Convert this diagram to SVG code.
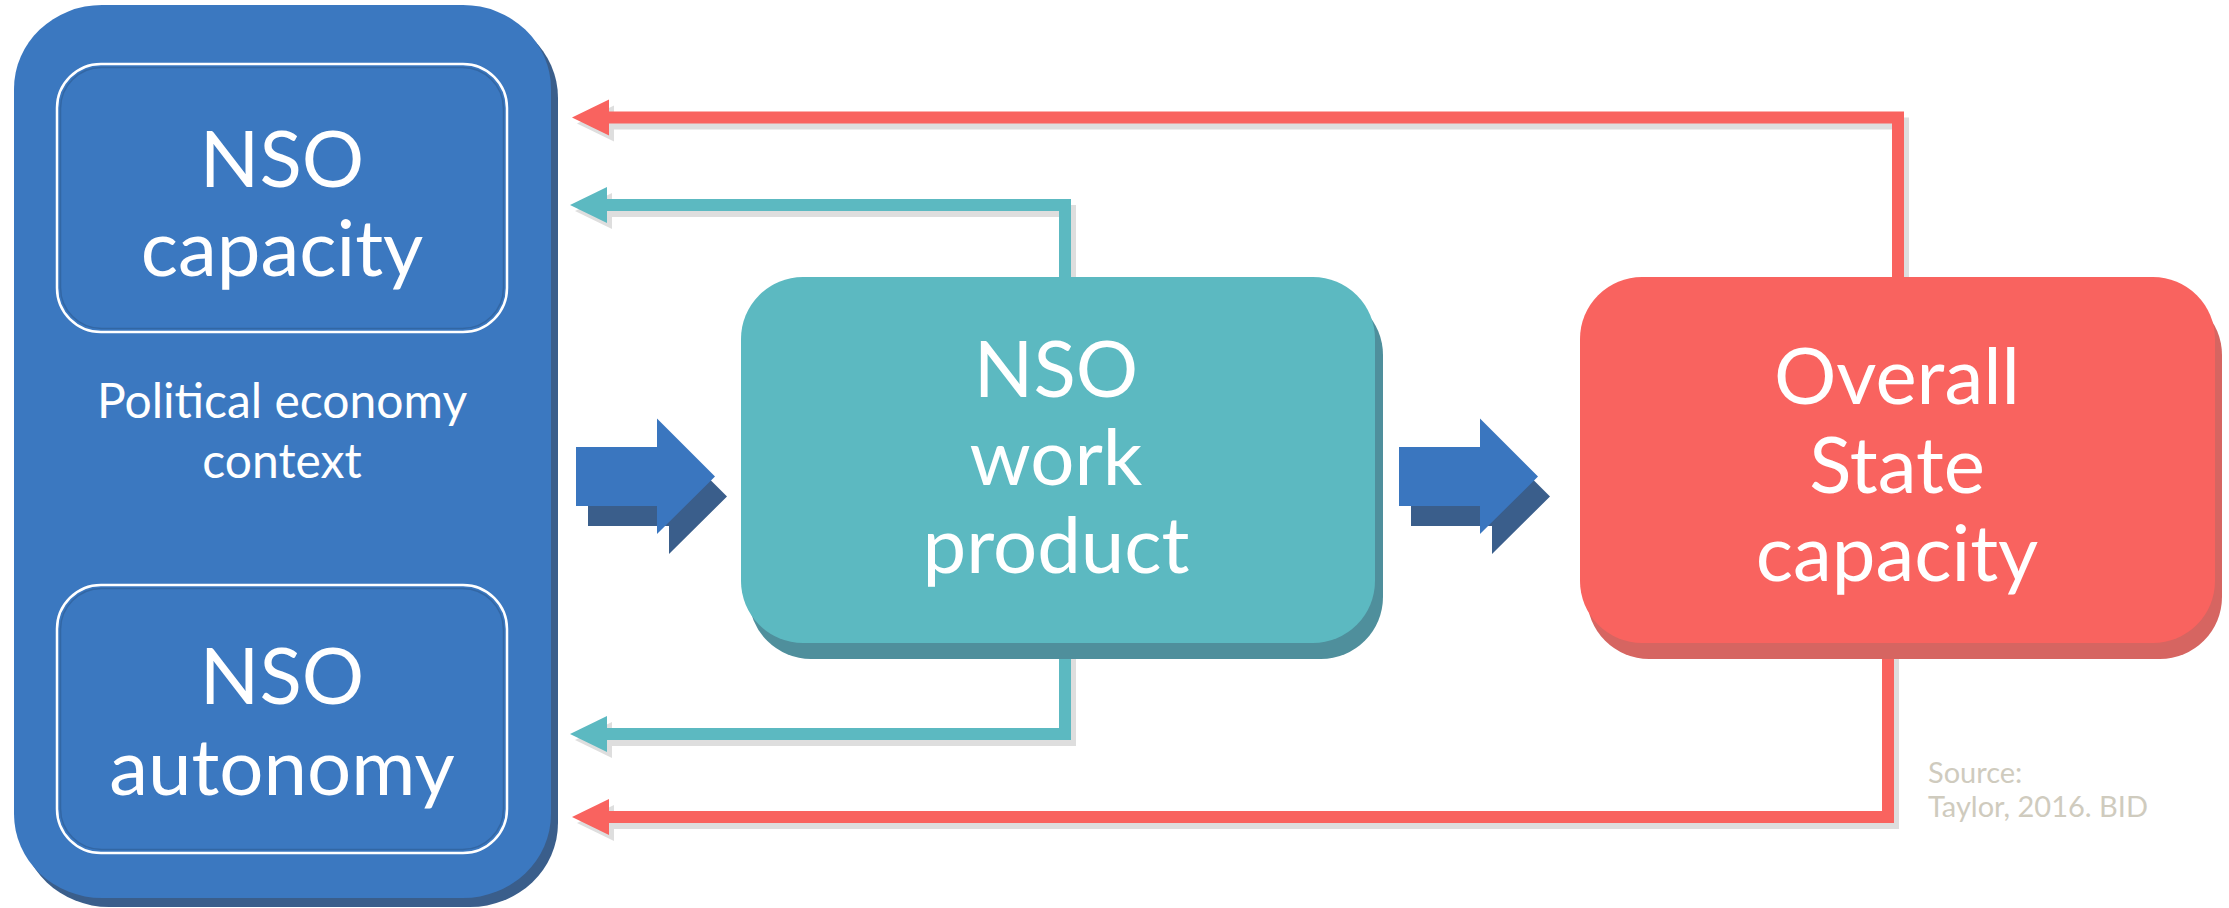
<svg xmlns="http://www.w3.org/2000/svg" width="2229" height="908" viewBox="0 0 2229 908">
  <style>
    .big { font-family: Lato, "Liberation Sans", sans-serif; font-size: 78px; fill: #ffffff; text-anchor: middle; }
    .mid { font-family: Lato, "Liberation Sans", sans-serif; font-size: 48px; fill: #ffffff; text-anchor: middle; }
    .src { font-family: Lato, "Liberation Sans", sans-serif; font-size: 29px; fill: #cfcbbe; }
    .line { fill: none; stroke-width: 12; stroke-linejoin: miter; stroke-linecap: butt; }
    .red { stroke: #f9635f; }
    .teal { stroke: #5cb9c1; }
    .shadow { stroke: #dedede; }
    .inner { fill: #3b78c0; stroke: #ffffff; stroke-width: 2.5; }
    .innerline { fill: none; stroke: #2f5f99; stroke-width: 1.5; opacity: 0.7; }
  </style>
  <defs>
    <marker id="mRed" markerUnits="userSpaceOnUse" orient="auto" refX="0" refY="0" markerWidth="60" markerHeight="60" overflow="visible">
      <path d="M-2,-18 L35,0 L-2,18 Z" fill="#f9635f"/>
    </marker>
    <marker id="mTeal" markerUnits="userSpaceOnUse" orient="auto" refX="0" refY="0" markerWidth="60" markerHeight="60" overflow="visible">
      <path d="M-2,-18 L35,0 L-2,18 Z" fill="#5cb9c1"/>
    </marker>
    <marker id="mGray" markerUnits="userSpaceOnUse" orient="auto" refX="0" refY="0" markerWidth="60" markerHeight="60" overflow="visible">
      <path d="M-2,-18 L35,0 L-2,18 Z" fill="#dedede"/>
    </marker>
    <path id="fatArrow" d="M0,-29.5 H81 V-58 L139,0 L81,57.5 V29.5 H0 Z"/>
  </defs>

  <!-- connectors -->
  <g id="connectors">
    <g transform="translate(5,6)">
      <path class="line shadow" d="M1898,280 V117.5 H607" marker-end="url(#mGray)"/>
      <path class="line shadow" d="M1065,280 V205 H605" marker-end="url(#mGray)"/>
      <path class="line shadow" d="M1065,640 V734 H605" marker-end="url(#mGray)"/>
      <path class="line shadow" d="M1888,640 V817 H607" marker-end="url(#mGray)"/>
    </g>
    <path class="line red" d="M1898,280 V117.5 H607" marker-end="url(#mRed)"/>
    <path class="line teal" d="M1065,280 V205 H605" marker-end="url(#mTeal)"/>
    <path class="line teal" d="M1065,640 V734 H605" marker-end="url(#mTeal)"/>
    <path class="line red" d="M1888,640 V817 H607" marker-end="url(#mRed)"/>
    <g id="fat-arrow-1">
      <use href="#fatArrow" transform="translate(588,496.5)" fill="#3a5e8b"/>
      <use href="#fatArrow" transform="translate(576,476.5)" fill="#3a76bf"/>
    </g>
    <g id="fat-arrow-2">
      <use href="#fatArrow" transform="translate(1411,496.5)" fill="#3a5e8b"/>
      <use href="#fatArrow" transform="translate(1399,476.5)" fill="#3a76bf"/>
    </g>
  </g>

  <!-- outer political economy box -->
  <g id="context">
    <rect x="21" y="14" width="537" height="893" rx="88" ry="84" fill="#3a5e8b"/>
    <rect x="14" y="5" width="537" height="893" rx="88" ry="84" fill="#3b78c0"/>
    <text class="mid" x="282" y="418">Political economy</text>
    <text class="mid" x="282" y="478">context</text>
  </g>

  <g id="nso-capacity">
    <rect class="inner" x="57" y="64" width="450" height="268" rx="44"/>
    <rect class="innerline" x="60.5" y="67.5" width="443" height="261" rx="41"/>
    <text class="big" x="282" y="187">NSO</text>
    <text class="big" x="282" y="276">capacity</text>
  </g>

  <g id="nso-autonomy">
    <rect class="inner" x="57" y="585" width="450" height="268" rx="44"/>
    <rect class="innerline" x="60.5" y="588.5" width="443" height="261" rx="41"/>
    <text class="big" x="282" y="704">NSO</text>
    <text class="big" x="282" y="795">autonomy</text>
  </g>

  <g id="nso-work-product">
    <rect x="749" y="293" width="634" height="366" rx="62" fill="#4f8f9c"/>
    <rect x="741" y="277" width="634" height="366" rx="62" fill="#5cb9c1"/>
    <text class="big" x="1056" y="397">NSO</text>
    <text class="big" x="1056" y="485">work</text>
    <text class="big" x="1056" y="573">product</text>
  </g>

  <g id="overall-state-capacity">
    <rect x="1587" y="293" width="635" height="366" rx="62" fill="#d66561"/>
    <rect x="1580" y="277" width="635" height="366" rx="62" fill="#f9635f"/>
    <text class="big" x="1897" y="404">Overall</text>
    <text class="big" x="1897" y="493">State</text>
    <text class="big" x="1897" y="581">capacity</text>
  </g>

  <g id="source">
    <text class="src" x="1928" y="783">Source:</text>
    <text class="src" x="1928" y="817">Taylor, 2016. BID</text>
  </g>
</svg>
